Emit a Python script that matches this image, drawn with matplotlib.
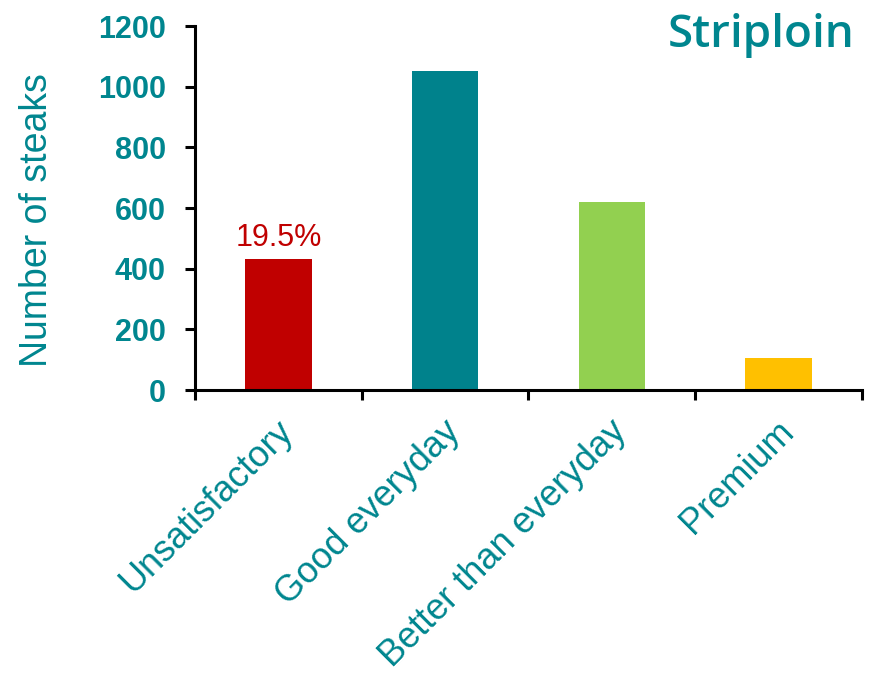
import numpy as np
import matplotlib
matplotlib.use("Agg")
import matplotlib.pyplot as plt

# datos
categorias = ["Unsatisfactory", "Good everyday", "Better than everyday", "Premium"]
valores = [432, 1052, 620, 107]
colores = ["#C00000", "#00828C", "#92D050", "#FFC000"]
etiqueta_pct = "19.5%"
y_ticks = [0, 200, 400, 600, 800, 1000, 1200]

teal = "#00868F"

plt.rcParams['font.family'] = ['Liberation Sans', 'DejaVu Sans']

fig = plt.figure(figsize=(8.7, 6.78), dpi=100)
ax = fig.add_axes([195 / 870, 1 - 390 / 678, 667 / 870, 364 / 678])

x = np.arange(len(categorias))
ax.bar(x, valores, width=0.4, color=colores, zorder=2)

ax.set_xlim(-0.5, len(categorias) - 0.5)
ax.set_ylim(0, 1200)

# ejes
for s in ["top", "right"]:
    ax.spines[s].set_visible(False)
for s in ["left", "bottom"]:
    ax.spines[s].set_linewidth(2.2)
    ax.spines[s].set_color("black")

ax.set_yticks(y_ticks)
ax.set_yticklabels([str(v) for v in y_ticks], fontsize=22, fontweight="bold", color=teal)
ax.tick_params(axis="y", direction="out", length=7, width=2.2, pad=14)

ax.set_xticks(np.arange(-0.5, len(categorias), 1.0))
ax.set_xticklabels([])
ax.tick_params(axis="x", direction="out", length=7, width=2.2)

# etiquetas de categorias
for i, cat in enumerate(categorias):
    ax.annotate(cat, xy=(i, 0), xycoords=("data", "axes fraction"),
                xytext=(7, -26), textcoords="offset points",
                rotation=45, ha="right", va="center", rotation_mode="anchor",
                fontsize=26, color=teal)

# porcentaje sobre la barra roja
ax.annotate(etiqueta_pct, xy=(0, valores[0]), xytext=(0, 4), textcoords="offset points",
            ha="center", va="bottom", fontsize=22, color="#C00000")

ax.set_ylabel("Number of steaks", fontsize=27, color=teal)
ax.yaxis.set_label_coords(-0.21, 0.467)

fig.text(855 / 870, 1 - 36 / 678, "Striploin", ha="right", va="center",
         fontsize=33, fontweight="semibold", color=teal, family=["Open Sans", "DejaVu Sans"])

fig.savefig("out.png", dpi=100)
